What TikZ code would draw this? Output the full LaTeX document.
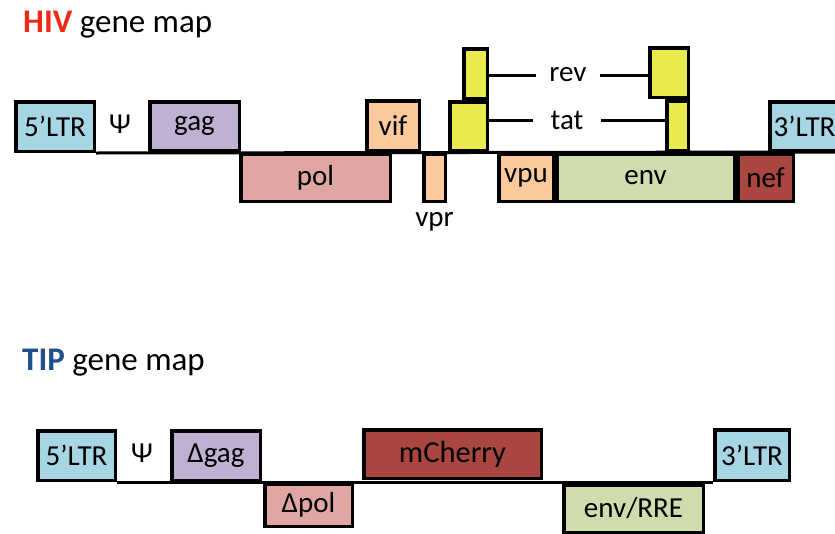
\documentclass[tikz,border=0pt]{standalone}
\usepackage{fontspec}
\setmainfont{Carlito}
\usetikzlibrary{shadows}
\definecolor{ltrblue}{HTML}{A6D5E3}
\definecolor{gagpurple}{HTML}{BFB1D3}
\definecolor{polpink}{HTML}{E0A6A3}
\definecolor{accorange}{HTML}{FAC99C}
\definecolor{accyellow}{HTML}{E8EA4E}
\definecolor{envgreen}{HTML}{CEDDAB}
\definecolor{nefred}{HTML}{A9463F}
\definecolor{hivred}{HTML}{EE2A14}
\definecolor{tipblue}{HTML}{1F4F8E}
\tikzset{
  gene/.style={draw=black, line width=3.5pt, rectangle, inner sep=0pt,
    font=\fontsize{29}{31}\selectfont,
    drop shadow={shadow xshift=1.5pt, shadow yshift=-1.5pt, opacity=0.2}},
  genebig/.style={gene, font=\fontsize{30.5}{32}\selectfont},
  plain/.style={inner sep=0pt, font=\fontsize{29}{31}\selectfont},
  titletext/.style={inner sep=0pt, anchor=base west, font=\fontsize{33}{36}\selectfont},
  backbone/.style={draw=black, line width=3pt},
  spliceline/.style={draw=black, line width=3pt}
}
\begin{document}
\begin{tikzpicture}[x=1pt,y=-1pt]
\useasboundingbox (0,0) rectangle (835,533);
\begin{scope}
\clip (0,0) rectangle (835,533);
% ---------- HIV ----------
\node[titletext] (hivtitle) at (23,32) {\textbf{\color{hivred}HIV} gene map};
\coordinate (hivend) at (840,152);
\node[gene, fill=ltrblue, minimum width=78.5pt, minimum height=49.5pt] (ltr5) at (55,126.5) {\raisebox{-2pt}{5’LTR}};
\draw[backbone] (ltr5.south east) -- (hivend);
\node[plain] (psi) at (120,124) {Ψ};
\node[gene, fill=gagpurple, minimum width=89.5pt, minimum height=48.5pt] (gag) at (194.5,126) {\raisebox{4pt}{gag}};
\node[gene, fill=polpink, minimum width=149.5pt, minimum height=47.5pt] (pol) at (315.5,177.5) {pol};
\node[gene, fill=accorange, minimum width=52.5pt, minimum height=49.5pt] (vif) at (393,125.5) {vif};
\node[gene, fill=accorange, minimum width=21.5pt, minimum height=47.5pt] (vpr) at (434.5,177.5) {};
\node[plain, anchor=north] (vprlab) at (vpr.south |- 0,212) {vpr};
\node[gene, fill=accyellow, minimum width=23.5pt, minimum height=49.5pt] (revL) at (475.5,73.5) {};
\node[gene, fill=accyellow, minimum width=37.5pt, minimum height=48.5pt] (tatL) at (468.5,126) {};
\node[gene, fill=accyellow, minimum width=38.5pt, minimum height=49.5pt] (revR) at (669,72.5) {};
\node[gene, fill=accyellow, minimum width=21.5pt, minimum height=49.5pt] (tatR) at (677.5,125.5) {};
\node[plain, inner xsep=13pt] (revt) at (568,75) {rev};
\node[plain, inner xsep=17pt] (tatt) at (567,120) {tat};
\draw[spliceline] (revL.east |- revt.west) -- (revt.west);
\draw[spliceline] (revt.east) -- (revR.west |- revt.east);
\draw[spliceline] (tatL.east |- tatt.west) -- (tatt.west);
\draw[spliceline] (tatt.east) -- (tatR.west |- tatt.east);
\node[gene, fill=accorange, minimum width=54.5pt, minimum height=47.5pt] (vpu) at (526,177.5) {vpu};
\node[gene, fill=envgreen, minimum width=177.5pt, minimum height=47.5pt] (env) at (645.5,177.5) {env};
\node[gene, fill=nefred, minimum width=55.5pt, minimum height=47.5pt] (nef) at (765.5,177.5) {\raisebox{-3pt}{nef}};
\node[gene, fill=ltrblue, minimum width=69.5pt, minimum height=48.5pt] (ltr3) at (804.5,126) {3’LTR};
% ---------- TIP ----------
\node[titletext] (tiptitle) at (22,370) {\textbf{\color{tipblue}TIP} gene map};
\node[gene, fill=ltrblue, minimum width=77.5pt, minimum height=49.5pt] (tltr5) at (76.5,455.5) {\raisebox{-2pt}{5’LTR}};
\node[gene, fill=ltrblue, minimum width=74.5pt, minimum height=50.5pt] (tltr3) at (752,455) {3’LTR};
\draw[backbone] (tltr5.south east) -- (tltr3.south west);
\node[plain] (tpsi) at (142,453) {Ψ};
\node[gene, fill=gagpurple, minimum width=88.5pt, minimum height=49.5pt] (tgag) at (216,455.5) {\raisebox{4pt}{Δgag}};
\node[gene, fill=polpink, minimum width=87.5pt, minimum height=42.5pt] (tpol) at (308.5,505) {Δpol};
\node[genebig, fill=nefred, minimum width=177.5pt, minimum height=48.5pt] (mcherry) at (452.5,454) {mCherry};
\node[gene, fill=envgreen, minimum width=139.5pt, minimum height=47.5pt] (envrre) at (633.5,508.5) {env/RRE};
\node[gene, fill=ltrblue, minimum width=74.5pt, minimum height=50.5pt] at (752,455) {3’LTR};
\end{scope}
\end{tikzpicture}
\end{document}
